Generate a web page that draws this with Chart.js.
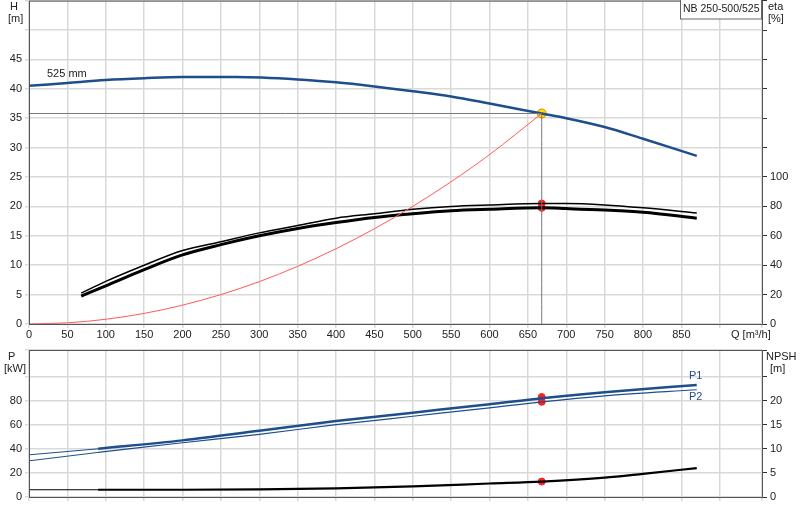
<!DOCTYPE html>
<html>
<head>
<meta charset="utf-8">
<script src="https://cdn.jsdelivr.net/npm/chart.js@4"></script>
<style>
  body { margin: 0; background: #fff; overflow: hidden; }
  canvas { position: absolute; left: 0; }
</style>
</head>
<body>
<canvas id="headChart" width="800" height="349" style="top:-9px"></canvas>
<canvas id="powerChart" width="800" height="180" style="top:340px"></canvas>
<script>
// duty point
const dutyQ = 668;
const dutyH = 35.8;

// head curve 525 mm impeller
const headQ = [0, 50, 100, 150, 200, 270, 350, 400, 450, 500, 550, 600, 668, 700, 750, 800, 870];
const headH = [40.5, 41, 41.5, 41.8, 42, 42, 41.6, 41.1, 40.4, 39.6, 38.7, 37.5, 35.8, 35, 33.5, 31.5, 28.6];

// system curve
const sysQ = [0, 50, 100, 150, 200, 250, 300, 350, 400, 450, 500, 550, 600, 668];
const sysH = [0, 0.2, 0.8, 1.8, 3.2, 5, 7.2, 9.8, 12.8, 16.2, 20, 24.2, 28.8, 35.8];

// efficiency curves (eta %)
const etaQ = [68, 100, 150, 200, 250, 300, 350, 400, 450, 500, 550, 600, 668, 700, 750, 800, 870];
const etaPump = [21, 29, 40, 50, 56, 62, 67, 72, 75, 78, 80, 81, 82, 82, 81, 79, 75.5];
const etaTotal = [19, 26, 37, 47, 54, 60, 65, 69, 72.5, 75, 77, 78, 79, 78.5, 77.5, 76, 72];
const etaDuty = [82, 79];

// power curves (kW)
const powQ = [90, 200, 300, 400, 500, 600, 668, 750, 870];
const powP1 = [40, 47, 55, 63, 70, 77, 82, 87, 93];
const powP2 = [37, 45, 52, 60, 67, 74, 79, 84, 89];
const powStartQ = [0, 90];
const powStartP1 = [35, 40];
const powStartP2 = [30, 37];
const powDuty = [83, 79];

// NPSH curve (m)
const npshQ = [0, 90, 200, 300, 400, 500, 600, 668, 750, 800, 870];
const npshH = [1.5, 1.5, 1.5, 1.6, 1.8, 2.2, 2.8, 3.2, 4, 4.8, 6];
const npshDuty = 3.2;

const pts = (xs, ys) => xs.map((x, i) => ({ x: x, y: ys[i] }));
const GRID = "#d9d9d9";
const BLUE = "#1f4e8c";
Chart.defaults.font = { family: "Arial, 'Liberation Sans', sans-serif", size: 11 };
Chart.defaults.color = "#222";

function line(data, color, width, yAxisID, extra) {
    return Object.assign({
        data: data, borderColor: color, borderWidth: width, yAxisID: yAxisID,
        pointRadius: 0, cubicInterpolationMode: "monotone", fill: false
    }, extra || {});
}
function dots(data, color, border, r, yAxisID) {
    return {
        data: data, showLine: false, yAxisID: yAxisID,
        pointRadius: r, pointBackgroundColor: color, pointBorderColor: border, pointBorderWidth: 1
    };
}

const fixWidth = w => ({ afterFit: s => { s.width = w; } });
const fixHeight = h => ({ afterFit: s => { s.height = h; } });

const textPlugin = (items, dy) => ({
    id: "texts",
    afterDraw(chart) {
        const c = chart.ctx;
        c.save();
        c.font = "11px Arial, 'Liberation Sans', sans-serif";
        items.forEach(t => {
            c.fillStyle = t.color || "#222";
            c.textAlign = "left";
            c.fillText(t.text, t.x, t.y + dy);
        });
        if (chart.canvas.id === "headChart") {
            c.fillStyle = "#fff";
            c.fillRect(680, dy, 82, 19);
            c.strokeStyle = "#666";
            c.lineWidth = 1;
            c.strokeRect(680.5, dy - 1, 81, 20);
            c.fillStyle = "#222";
            c.font = "10.5px Arial, 'Liberation Sans', sans-serif";
            c.fillText("NB 250-500/525", 683, 12 + dy);
        }
        c.restore();
    }
});

const frame = {
    id: "frame",
    afterDraw(chart) {
        const a = chart.chartArea, c = chart.ctx;
        c.save();
        c.strokeStyle = "#555";
        c.lineWidth = 1;
        c.strokeRect(a.left + 0.5, a.top + 0.5, a.right - a.left, a.bottom - a.top);
        c.restore();
    }
};

const xScale = (labels) => Object.assign({
    type: "linear", min: 0, max: 955,
    grid: { color: GRID, lineWidth: 1.5, drawTicks: true, tickLength: 4 },
    border: { display: false },
    ticks: {
        stepSize: 50, autoSkip: false, maxRotation: 0, padding: 0, display: labels,
        callback: v => v <= 850 ? v : ""
    }
}, fixHeight(labels ? 16 : 23));

new Chart(document.getElementById("headChart"), {
    type: "line",
    data: {
        datasets: [
            line(pts([0, dutyQ], [dutyH, dutyH]), "#777", 1, "y"),
            line(pts([dutyQ, dutyQ], [dutyH, 0]), "#777", 1, "y"),
            line(pts(sysQ, sysH), "#ff5a5a", 1, "y"),
            line(pts(headQ, headH), BLUE, 2.5, "y"),
            line(pts(etaQ, etaPump), "#000", 1.5, "eta"),
            line(pts(etaQ, etaTotal), "#000", 3, "eta"),
            dots(pts([dutyQ, dutyQ], etaDuty), "#ff2020", "#ff2020", 3.5, "eta"),
            dots([{ x: dutyQ, y: dutyH }], "#ffe000", "#e08000", 4.5, "y")
        ]
    },
    options: {
        responsive: false, animation: false,
        layout: { padding: 0 },
        plugins: { legend: { display: false }, tooltip: { enabled: false } },
        scales: {
            x: xScale(true),
            y: Object.assign({
                min: 0, max: 55,
                grid: { color: GRID, lineWidth: 1.5, tickLength: 4 },
                border: { display: false },
                ticks: { stepSize: 5, callback: v => v <= 45 ? v : "" }
            }, fixWidth(29)),
            eta: Object.assign({
                position: "right", min: 0, max: 220,
                grid: { drawOnChartArea: false, color: "#333", tickLength: 5 },
                border: { display: false },
                ticks: { stepSize: 20, callback: v => v <= 100 ? v : "" }
            }, fixWidth(38))
        }
    },
    plugins: [frame, textPlugin([
        { text: "H", x: 10, y: 10 }, { text: "[m]", x: 8, y: 22 },
        { text: "eta", x: 768, y: 10 }, { text: "[%]", x: 768, y: 22 },
        { text: "525 mm", x: 47, y: 77 },
        { text: "Q [m³/h]", x: 731, y: 338 }
    ], 9)]
});

new Chart(document.getElementById("powerChart"), {
    type: "line",
    data: {
        datasets: [
            line(pts(powStartQ, powStartP1), BLUE, 1, "y"),
            line(pts(powStartQ, powStartP2), BLUE, 1, "y"),
            line(pts(powQ, powP1), BLUE, 2.5, "y"),
            line(pts(powQ, powP2), BLUE, 1.2, "y"),
            line(pts([0, 90], [1.5, 1.5]), "#000", 1.2, "npsh"),
            line(pts(npshQ.slice(1), npshH.slice(1)), "#000", 2.2, "npsh"),
            dots(pts([dutyQ, dutyQ], powDuty), "#ff2020", "#ff2020", 3.5, "y"),
            dots([{ x: dutyQ, y: npshDuty }], "#ff2020", "#ff2020", 3.5, "npsh")
        ]
    },
    options: {
        responsive: false, animation: false,
        layout: { padding: { top: 10, left: 0, right: 0, bottom: 0 } },
        plugins: { legend: { display: false }, tooltip: { enabled: false } },
        scales: {
            x: xScale(false),
            y: Object.assign({
                min: 0, max: 122,
                grid: { color: GRID, lineWidth: 1.5, tickLength: 4 },
                border: { display: false },
                ticks: { stepSize: 20, callback: v => v <= 80 ? v : "" }
            }, fixWidth(29)),
            npsh: Object.assign({
                position: "right", min: 0, max: 30.5,
                grid: { drawOnChartArea: false, color: "#333", tickLength: 5 },
                border: { display: false },
                ticks: { stepSize: 5, callback: v => v <= 20 ? v : "" }
            }, fixWidth(38))
        }
    },
    plugins: [frame, textPlugin([
        { text: "P", x: 8, y: 20 }, { text: "[kW]", x: 4, y: 32 },
        { text: "NPSH", x: 766, y: 20 }, { text: "[m]", x: 770, y: 32 },
        { text: "P1", x: 689, y: 39, color: BLUE },
        { text: "P2", x: 689, y: 60, color: BLUE }
    ], 0)]
});
</script>
</body>
</html>
